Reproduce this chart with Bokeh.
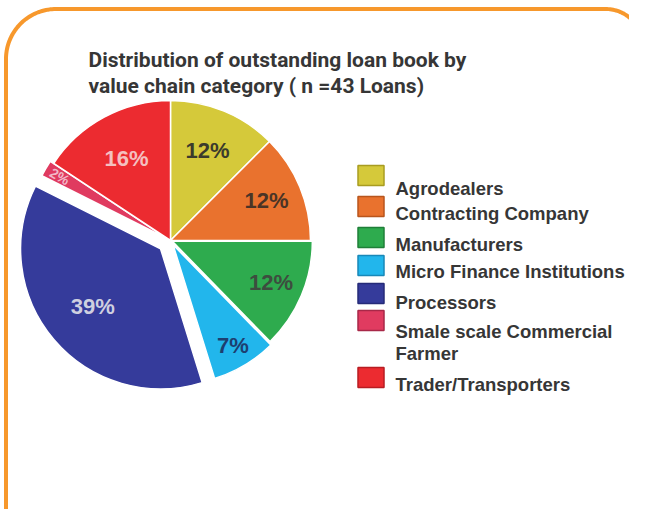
import numpy as np
from bokeh.plotting import figure
from bokeh.models import Range1d, ColumnDataSource
from bokeh.core.properties import value
from bokeh.embed import file_html
from bokeh.resources import INLINE

# ---------------- data ----------------
title_lines = ["Distribution of outstanding loan book by",
               "value chain category ( n =43 Loans)"]
categories = ["Agrodealers", "Contracting Company", "Manufacturers",
              "Micro Finance Institutions", "Processors",
              "Smale scale Commercial\nFarmer", "Trader/Transporters"]
shares = [12.5, 12.5, 12.7, 7.5, 37.2, 1.9, 15.7]          # slice sizes (% of loan book)
pct_labels = ["12%", "12%", "12%", "7%", "39%", "2%", "16%"]

# ---------------- style ----------------
colors = ["#d5c93a", "#e9722e", "#2eab4e", "#22b6ec", "#353b9b", "#e03b60", "#ec2b30"]
edge_colors = ["#a89c20", "#b8551c", "#1f7f38", "#1888b8", "#262b78", "#a82848", "#b81c22"]
label_colors = ["#3b3b2c", "#4a3426", "#3d4d3f", "#1d3f70", "#cfd0e0", "#f2b8c8", "#f4c0c0"]
explode = [0, 0, 2, 5, 13, 4, 0]
label_r = [97, 104, 109, 122, 102, 128, 93]

W, H = 629, 509
PAGE_H = 525
def Y(py):
    return PAGE_H - py

p = figure(width=W, height=H, output_backend="svg", toolbar_location=None,
           x_range=Range1d(0, W), y_range=Range1d(PAGE_H - H, PAGE_H),
           x_axis_type=None, y_axis_type=None, min_border=0)
p.outline_line_color = None
p.background_fill_color = "white"
p.grid.visible = False

# ---------------- orange frame ----------------
R1, R2 = 50, 38
bx, by_top, bx_r = 5.5, 8.5, 643
pts_x, pts_y = [bx, bx], [Y(560), Y(by_top + R1)]
a = np.linspace(np.pi, np.pi / 2, 40)
pts_x += list(bx + R1 + R1 * np.cos(a)); pts_y += list(Y(by_top + R1) + R1 * np.sin(a))
a = np.linspace(np.pi / 2, 0, 40)
pts_x += list(bx_r - R2 + R2 * np.cos(a)); pts_y += list(Y(by_top + R2) + R2 * np.sin(a))
pts_x += [bx_r]; pts_y += [Y(560)]
p.line(pts_x, pts_y, line_color="#f7982c", line_width=4)

# ---------------- title ----------------
for i, t in enumerate(title_lines):
    p.text(x=[88], y=[Y(59 + 26 * i)], text=[t], text_font=value("Roboto"),
           text_font_style="bold", text_font_size="21px", text_color="#363636",
           text_baseline="alphabetic", text_align="left")

# ---------------- pie ----------------
cx, cy, R = 170, Y(240), 140
frac = np.array(shares) / sum(shares)
c1 = np.cumsum(frac)
c0 = c1 - frac
start = np.pi / 2 - 2 * np.pi * c0
end = np.pi / 2 - 2 * np.pi * c1
mid = (start + end) / 2
ex = np.array(explode)
xs = cx + ex * np.cos(mid)
ys = cy + ex * np.sin(mid)

src = ColumnDataSource(dict(x=xs, y=ys, s=start, e=end, c=colors))
p.wedge(x="x", y="y", radius=R, start_angle="s", end_angle="e", direction="clock",
        fill_color="c", line_color="white", line_width=1.5, source=src)

lr = np.array(label_r)
lx = cx + lr * np.cos(mid)
ly = cy + lr * np.sin(mid)
small = frac < 0.05
ang = np.where(small, mid - np.pi, 0.0)
sizes = np.where(small, "14px", "22px")
lsrc = ColumnDataSource(dict(x=lx, y=ly, t=pct_labels, c=label_colors, a=ang, fs=list(sizes)))
p.text(x="x", y="y", text="t", text_color="c", angle="a", text_font_size="fs",
       text_font=value("Liberation Sans"), text_font_style="bold",
       text_align="center", text_baseline="middle", source=lsrc)

# ---------------- legend ----------------
sq_y = [175, 206, 237, 265, 293, 320, 377]
txt_y = [188, 213, 244, 271, 302, 331, 384]
p.rect(x=[370.5] * len(categories), y=[Y(v) for v in sq_y], width=26, height=20,
       fill_color=colors, line_color=edge_colors, line_width=1.5)
for name, ty in zip(categories, txt_y):
    for j, part in enumerate(name.split("\n")):
        p.text(x=[395], y=[Y(ty + 22 * j)], text=[part], text_font=value("Liberation Sans"),
               text_font_style="bold", text_font_size="18.5px", text_color="#363636",
               text_baseline="alphabetic", text_align="left")

open("out.html", "w").write(file_html(p, INLINE))
